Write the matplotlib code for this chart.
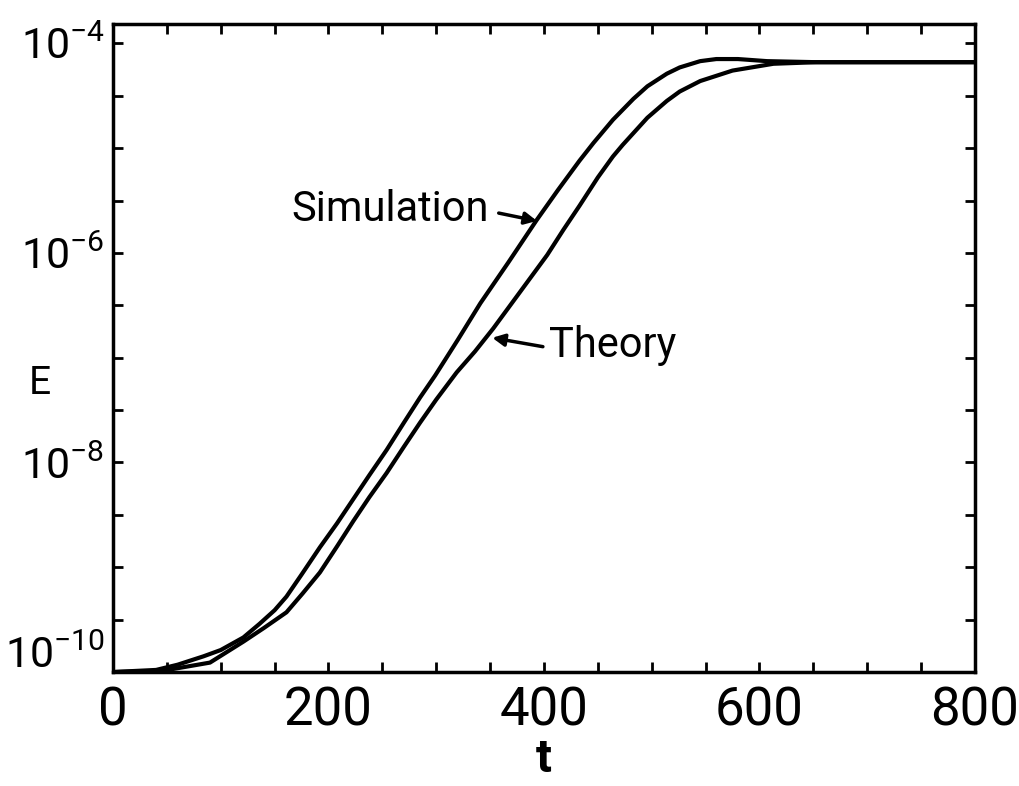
import matplotlib
matplotlib.use("Agg")
import matplotlib.pyplot as plt
import matplotlib.transforms as mtransforms
import numpy as np

plt.rcParams['font.family'] = ['Roboto', 'DejaVu Sans']
plt.rcParams['mathtext.default'] = 'regular'

# simulation curve (t, log10 E)
sim_t = [0, 40, 60, 84, 100, 121, 136, 150, 161, 175, 192, 208, 223, 238, 254,
         270, 285, 299, 320, 341, 367, 393, 413, 433, 446, 464, 483, 496, 514,
         526, 545, 560, 580, 607, 653, 700, 800]
sim_logE = [-10.0, -9.98, -9.93, -9.85, -9.79, -9.67, -9.54, -9.41, -9.28, -9.07,
            -8.81, -8.58, -8.35, -8.12, -7.88, -7.62, -7.38, -7.17, -6.83, -6.48,
            -6.09, -5.69, -5.40, -5.12, -4.95, -4.73, -4.53, -4.41, -4.29, -4.23,
            -4.17, -4.15, -4.15, -4.17, -4.18, -4.18, -4.18]

# theory curve
theo_t = [0, 45, 90, 121, 140, 161, 176, 192, 208, 223, 238, 254, 270, 285, 300,
          319, 336, 353, 378, 403, 418, 433, 450, 464, 473, 496, 514, 526, 545,
          575, 613, 653, 700, 800]
theo_logE = [-10.0, -9.99, -9.91, -9.71, -9.58, -9.43, -9.25, -9.05, -8.80, -8.56,
             -8.33, -8.10, -7.85, -7.62, -7.40, -7.14, -6.94, -6.72, -6.37, -6.02,
             -5.78, -5.55, -5.28, -5.08, -4.97, -4.71, -4.55, -4.46, -4.36, -4.26,
             -4.195, -4.18, -4.18, -4.18]

xticks = np.arange(0, 801, 50)
ytick_exps = np.arange(-10, -3.9, 0.5)
ylabel_exps = [-10, -8, -6, -4]

fig = plt.figure(figsize=(10.2, 7.86), dpi=100)
ax = fig.add_axes([0.1108, 0.145, 0.845, 0.824])

ax.plot(sim_t, 10 ** np.array(sim_logE), color='black', lw=3, solid_joinstyle='round')
ax.plot(theo_t, 10 ** np.array(theo_logE), color='black', lw=3, solid_joinstyle='round')

ax.set_yscale('log')
ax.set_xlim(0, 800)
ax.set_ylim(1e-10, 10 ** -3.819)

ax.set_xticks(xticks)
ax.set_xticklabels([str(v) if v % 200 == 0 else '' for v in xticks])
ax.set_yticks(10 ** ytick_exps)
ylabs = []
for e in ytick_exps:
    if e in ylabel_exps:
        ylabs.append('$10^{%d}$' % int(e))
    else:
        ylabs.append('')
ax.set_yticklabels(ylabs)
ax.yaxis.set_minor_locator(matplotlib.ticker.NullLocator())

ax.tick_params(which='both', direction='in', top=True, right=True,
               length=7, width=2)
ax.tick_params(axis='x', labelsize=38, pad=10)
ax.tick_params(axis='y', labelsize=31, pad=6)
for s in ax.spines.values():
    s.set_linewidth(2.5)

# lift the lowest label a bit like in the original
lbl = ax.get_yticklabels()[0]
lbl.set_transform(lbl.get_transform() + mtransforms.ScaledTranslation(0, 0.2, fig.dpi_scale_trans))

ax.set_xlabel('t', fontsize=34, fontweight='bold', labelpad=0)
ax.set_ylabel('E', fontsize=28, rotation=0, va='center', ha='center')
ax.yaxis.set_label_coords(-0.085, 0.446)

ax.text(166, 10 ** -5.59, 'Simulation', fontsize=30, va='center', ha='left')
ax.annotate('', xy=(393.5, 10 ** -5.695), xytext=(358, 10 ** -5.62),
            arrowprops=dict(arrowstyle='-|>', color='black', lw=2.5,
                            mutation_scale=18, shrinkA=0, shrinkB=0))
ax.text(405, 10 ** -6.886, 'Theory', fontsize=30, va='center', ha='left')
ax.annotate('', xy=(352, 10 ** -6.81), xytext=(399, 10 ** -6.895),
            arrowprops=dict(arrowstyle='-|>', color='black', lw=2.5,
                            mutation_scale=18, shrinkA=0, shrinkB=0))

plt.savefig('out.png', dpi=100)
